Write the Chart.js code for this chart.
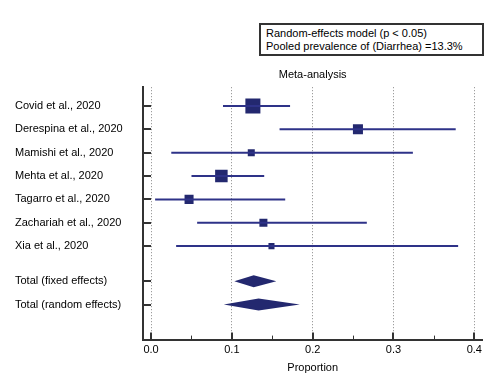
<!DOCTYPE html>
<html>
<head>
<meta charset="utf-8">
<script src="https://cdn.jsdelivr.net/npm/chart.js@4.4.0/dist/chart.umd.min.js"></script>
<style>
  body { margin: 0; background: #fff; }
  #wrap { position: relative; width: 493px; height: 375px; }
  #note {
    position: absolute; left: 259px; top: 23px; width: 225px; height: 33px;
    box-sizing: border-box; border: 2px solid #333; background: #fff;
    font: 11px "Liberation Sans", Arial, sans-serif; color: #000;
    padding: 2px 0 0 5px; line-height: 12.5px; white-space: nowrap;
  }
</style>
</head>
<body>
<div id="wrap">
  <canvas id="forest" width="493" height="375"></canvas>
  <div id="note">Random-effects model (p &lt; 0.05)<br>Pooled prevalence of (Diarrhea) =13.3%</div>
</div>
<script>
// study data (proportion, 95% CI)
const studies = ["Covid et al., 2020", "Derespina et al., 2020", "Mamishi et al., 2020",
    "Mehta et al., 2020", "Tagarro et al., 2020", "Zachariah et al., 2020", "Xia et al., 2020"];
const estimate = [0.126, 0.256, 0.124, 0.087, 0.047, 0.139, 0.149];
const lower = [0.089, 0.159, 0.025, 0.050, 0.005, 0.057, 0.031];
const upper = [0.172, 0.377, 0.324, 0.140, 0.166, 0.267, 0.380];
const weights = [31.6, 14.1, 6.9, 21.9, 11.4, 9.0, 5.1];

const totals = ["Total (fixed effects)", "Total (random effects)"];
const totalEst = [0.127, 0.133];
const totalLow = [0.103, 0.090];
const totalHigh = [0.155, 0.184];

const xTicks = [0, 0.1, 0.2, 0.3, 0.4];

const lineColor = '#2e3288';
const markColor = '#23286f';
const font = "'Liberation Sans', Arial, sans-serif";

// rows: studies 1..n, then a gap, then the totals
const studyRows = studies.map((s, i) => i + 1);
const totalRows = totals.map((s, i) => studies.length + 1.5 + i);
const rowLabels = studies.concat(totals);
const allRows = studyRows.concat(totalRows);

const datasets = [];
studies.forEach((s, i) => {
    datasets.push({
        type: 'line',
        data: [{x: lower[i], y: studyRows[i]}, {x: upper[i], y: studyRows[i]}],
        borderColor: lineColor,
        borderWidth: 2,
        pointRadius: 0
    });
});
datasets.push({
    type: 'scatter',
    data: studies.map((s, i) => ({x: estimate[i], y: studyRows[i]})),
    pointStyle: 'rect',
    pointRadius: weights.map(w => 1.89 * Math.sqrt(w)),
    backgroundColor: markColor,
    borderWidth: 0
});

const diamonds = {
    id: 'diamonds',
    afterDatasetsDraw(chart) {
        const ctx = chart.ctx;
        const xs = chart.scales.x, ys = chart.scales.y;
        ctx.save();
        ctx.fillStyle = markColor;
        totals.forEach((t, i) => {
            const y = ys.getPixelForValue(totalRows[i]);
            ctx.beginPath();
            ctx.moveTo(xs.getPixelForValue(totalLow[i]), y);
            ctx.lineTo(xs.getPixelForValue(totalEst[i]), y - 6);
            ctx.lineTo(xs.getPixelForValue(totalHigh[i]), y);
            ctx.lineTo(xs.getPixelForValue(totalEst[i]), y + 6);
            ctx.closePath();
            ctx.fill();
        });
        ctx.restore();
    }
};

// tick marks point inward, as in the original
const innerTicks = {
    id: 'innerTicks',
    afterDraw(chart) {
        const ctx = chart.ctx;
        const xs = chart.scales.x, ys = chart.scales.y;
        const area = chart.chartArea;
        ctx.save();
        ctx.strokeStyle = '#333';
        ctx.lineWidth = 2;
        allRows.forEach(r => {
            const y = Math.round(ys.getPixelForValue(r));
            ctx.beginPath();
            ctx.moveTo(area.left, y);
            ctx.lineTo(area.left + 8, y);
            ctx.stroke();
        });
        xTicks.forEach(v => {
            const x = Math.round(xs.getPixelForValue(v));
            ctx.beginPath();
            ctx.moveTo(x, area.bottom);
            ctx.lineTo(x, area.bottom - 7);
            ctx.stroke();
        });
        ctx.lineWidth = 1;
        xTicks.slice(0, -1).forEach(v => {
            const x = Math.round(xs.getPixelForValue(v + 0.05)) + 0.5;
            ctx.beginPath();
            ctx.moveTo(x, area.bottom);
            ctx.lineTo(x, area.bottom - 4);
            ctx.stroke();
        });
        ctx.restore();
    }
};

new Chart(document.getElementById('forest'), {
    type: 'scatter',
    data: { datasets: datasets },
    plugins: [diamonds, innerTicks],
    options: {
        responsive: false,
        animation: false,
        layout: { padding: { left: 15, right: 10, top: 0, bottom: 0 } },
        plugins: {
            legend: { display: false },
            tooltip: { enabled: false },
            title: {
                display: true,
                text: 'Meta-analysis',
                color: '#000',
                fullSize: false,
                font: { size: 11, family: font, weight: 'normal' },
                padding: { top: 68, bottom: 6 }
            }
        },
        scales: {
            x: {
                type: 'linear',
                min: -0.01,
                max: 0.41,
                afterBuildTicks: scale => { scale.ticks = xTicks.map(v => ({value: v})); },
                ticks: {
                    color: '#000',
                    padding: 4,
                    font: { size: 11, family: font },
                    callback: v => v.toFixed(1)
                },
                grid: { color: '#888', lineWidth: 1, drawTicks: false },
                border: { color: '#333', width: 2, dash: [1, 2] },
                title: {
                    display: true,
                    text: 'Proportion',
                    color: '#000',
                    font: { size: 11, family: font },
                    padding: { top: 1, bottom: 0 }
                }
            },
            y: {
                type: 'linear',
                reverse: true,
                min: 0.2,
                max: 11,
                afterBuildTicks: scale => { scale.ticks = allRows.map(v => ({value: v})); },
                afterFit: scale => { scale.width = 128; },
                ticks: {
                    color: '#000',
                    autoSkip: false,
                    crossAlign: 'far',
                    font: { size: 11, family: font },
                    callback: (v, i) => rowLabels[i]
                },
                grid: { display: true, drawOnChartArea: false, drawTicks: false },
                border: { color: '#333', width: 2 }
            }
        }
    }
});
</script>
</body>
</html>
